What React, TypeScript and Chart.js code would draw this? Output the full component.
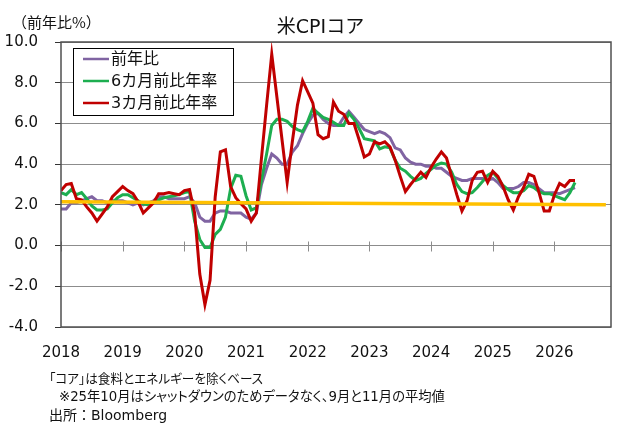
import { useEffect, useRef } from 'react';
import { Chart, registerables } from 'chart.js';

Chart.register(...registerables);

// Monthly series from January 2018 (index 0) onward, in % annualised
const startYear = 2018;

const yoy = [
  1.8, 1.8, 2.1, 2.1, 2.2, 2.3, 2.4, 2.2, 2.2, 2.1, 2.2, 2.2,
  2.2, 2.1, 2.0, 2.1, 2.0, 2.1, 2.2, 2.4, 2.4, 2.3, 2.3, 2.3,
  2.3, 2.4, 2.1, 1.4, 1.2, 1.2, 1.6, 1.7, 1.7, 1.6, 1.6, 1.6,
  1.4, 1.3, 1.6, 3.0, 3.8, 4.5, 4.3, 4.0, 4.0, 4.6, 4.9, 5.5,
  6.0, 6.4, 6.5, 6.2, 6.0, 5.9, 5.9, 6.3, 6.6, 6.3, 6.0, 5.7,
  5.6, 5.5, 5.6, 5.5, 5.3, 4.8, 4.7, 4.3, 4.1, 4.0, 4.0, 3.9,
  3.9, 3.8, 3.8, 3.6, 3.4, 3.3, 3.2, 3.2, 3.3, 3.3, 3.3, 3.2,
  3.3, 3.1, 2.8, 2.8, 2.8, 2.9, 3.1, 3.1, 3.0, 2.8, 2.6, 2.6,
  2.6, 2.55, 2.65, 2.75, 2.85,
];

const sixMonth = [
  2.6, 2.5, 2.75, 2.5, 2.6, 2.3, 1.95, 1.75, 1.75, 1.8, 2.1, 2.35,
  2.5, 2.5, 2.35, 2.2, 2.05, 2.0, 2.1, 2.25, 2.35, 2.4, 2.45, 2.5,
  2.6, 2.65, 1.2, 0.3, -0.1, -0.1, 0.55, 0.8, 1.4, 2.8, 3.45, 3.4,
  2.45, 1.75, 1.85, 3.2, 4.5, 5.9, 6.2, 6.2, 6.1, 5.85, 5.7, 5.6,
  6.1, 6.75, 6.5, 6.3, 6.2, 6.05, 5.9, 5.9, 6.5, 6.2, 5.75, 5.25,
  5.2, 5.15, 4.75, 4.85, 4.8, 4.2, 3.8, 3.65, 3.4, 3.2, 3.3, 3.55,
  3.75, 3.95, 4.05, 4.0, 3.6, 3.0, 2.65, 2.55, 2.6, 2.85, 3.15, 3.45,
  3.6, 3.3, 2.95, 2.75, 2.6, 2.6, 2.7, 2.95, 2.85, 2.65, 2.55, 2.55,
  2.45, 2.35, 2.25, 2.6, 3.1,
];

const threeMonth = [
  2.7, 3.0, 3.05, 2.3, 2.25, 1.9, 1.6, 1.2, 1.55, 1.9, 2.4, 2.65,
  2.9, 2.7, 2.55, 2.15, 1.6, 1.85, 2.1, 2.55, 2.55, 2.6, 2.55, 2.5,
  2.7, 2.75, 1.6, -1.4, -2.9, -1.7, 2.4, 4.6, 4.7, 2.9, 2.35, 2.05,
  1.8, 1.2, 1.6, 4.3, 6.9, 9.4, 7.3, 5.2, 3.1, 5.1, 6.9, 8.1,
  7.55, 7.0, 5.45, 5.25, 5.35, 7.05, 6.6, 6.45, 6.0, 6.0, 5.2, 4.35,
  4.5, 5.1, 5.0, 5.1, 4.85, 4.2, 3.4, 2.65, 3.0, 3.3, 3.6, 3.35,
  3.85, 4.25, 4.6, 4.3, 3.4, 2.5, 1.7, 2.2, 3.2, 3.6, 3.65, 3.1,
  3.65, 3.4, 2.9, 2.25, 1.75, 2.4, 2.85, 3.5, 3.4, 2.6, 1.7, 1.7,
  2.5, 3.05, 2.9, 3.2, 3.2,
];

// 2% reference line (endpoints, month index / value)
const guideMonths = [0, 106];
const guideValues = [2.15, 2.0];

const seriesLabels = ['前年比', '6カ月前比年率', '3カ月前比年率'];
const seriesColors = ['#8064A2', '#1DAE50', '#C00000'];
const guideColor = '#FFC000';

const yMin = -4;
const yMax = 10;
const yStep = 2;
const xMax = 107;

const tickFont = "'DejaVu Sans', 'Noto Sans CJK JP', sans-serif";
const jpFont = "'DejaVu Sans', 'Noto Sans CJK JP', sans-serif";

const toPoints = (values: number[]) => values.map((v, i) => ({ x: i, y: v }));

const decorations = {
  id: 'decorations',
  afterDatasetsDraw(chart: any) {
    const { ctx, chartArea: a, scales } = chart;
    const xs = scales.x;
    const ys = scales.y;
    ctx.save();

    // year tick marks crossing the zero line
    const y0 = Math.round(ys.getPixelForValue(0)) + 0.5;
    ctx.strokeStyle = '#8c8c8c';
    ctx.lineWidth = 1;
    xs.ticks.forEach((t: any) => {
      const px = Math.round(xs.getPixelForValue(t.value)) + 0.5;
      ctx.beginPath();
      ctx.moveTo(px, y0 - 5);
      ctx.lineTo(px, y0 + 5);
      ctx.stroke();
    });

    // plot frame
    ctx.strokeStyle = '#505050';
    ctx.lineWidth = 1.5;
    ctx.strokeRect(a.left, a.top, a.right - a.left, a.bottom - a.top);

    // legend box inside the plot
    const bx = a.left + 12;
    const by = a.top + 6;
    const bw = 160;
    const bh = 67;
    ctx.fillStyle = '#ffffff';
    ctx.fillRect(bx, by, bw, bh);
    ctx.strokeStyle = '#000000';
    ctx.lineWidth = 1;
    ctx.strokeRect(bx + 0.5, by + 0.5, bw, bh);

    const entries = chart.data.datasets.filter((d: any) => d.label);
    ctx.font = `16px ${jpFont}`;
    ctx.textBaseline = 'middle';
    ctx.textAlign = 'left';
    entries.forEach((d: any, i: number) => {
      const ry = by + 11 + i * 22;
      ctx.strokeStyle = d.borderColor;
      ctx.lineWidth = 2.5;
      ctx.beginPath();
      ctx.moveTo(bx + 10, ry);
      ctx.lineTo(bx + 36, ry);
      ctx.stroke();
      ctx.fillStyle = '#111111';
      ctx.fillText(d.label, bx + 38, ry + 1);
    });

    ctx.restore();
  },
};

export default function App() {
  const canvasRef = useRef<HTMLCanvasElement | null>(null);

  useEffect(() => {
    const canvas = canvasRef.current;
    if (!canvas) return;
    const seriesValues = [yoy, sixMonth, threeMonth];
    const lineDatasets = seriesValues.map((values, i) => ({
      label: seriesLabels[i],
      data: toPoints(values),
      borderColor: seriesColors[i],
      backgroundColor: seriesColors[i],
      borderWidth: 3,
      pointRadius: 0,
      tension: 0,
      order: 3 - i,
    }));
    const guide = {
      label: '',
      data: guideMonths.map((m, i) => ({ x: m, y: guideValues[i] })),
      borderColor: guideColor,
      backgroundColor: guideColor,
      borderWidth: 3.5,
      pointRadius: 0,
      tension: 0,
      order: 0,
    };

    const chart = new Chart(canvas, {
      type: 'line',
      data: { datasets: [...lineDatasets, guide] as any },
      options: {
        animation: false,
        responsive: false,
        devicePixelRatio: 1,
        layout: { padding: { left: 0, top: 42, right: 28, bottom: 68 } },
        plugins: {
          legend: { display: false },
          title: { display: false },
          tooltip: { enabled: false },
        },
        scales: {
          x: {
            type: 'linear',
            min: 0,
            max: xMax,
            grid: { display: false },
            border: { display: false },
            ticks: {
              stepSize: 12,
              includeBounds: false,
              autoSkip: false,
              maxRotation: 0,
              padding: 9,
              color: '#111111',
              font: { family: tickFont, size: 15 },
              callback: (v: any) => String(startYear + Number(v) / 12),
            },
            afterFit: (s: any) => {
              s.height = 40;
            },
          },
          y: {
            type: 'linear',
            min: yMin,
            max: yMax,
            grid: {
              color: '#8c8c8c',
              lineWidth: 1,
              tickColor: '#333333',
              tickLength: 6,
            },
            border: { display: false },
            ticks: {
              stepSize: yStep,
              padding: 17,
              color: '#111111',
              font: { family: tickFont, size: 15 },
              callback: (v: any) => Number(v).toFixed(1),
            },
            afterFit: (s: any) => {
              s.width = 61;
            },
          },
        },
      },
      plugins: [decorations],
    });

    return () => chart.destroy();
  }, []);

  const noteStyle: any = {
    position: 'absolute',
    left: 49,
    fontFamily: jpFont,
    fontSize: 13,
    lineHeight: '18px',
    color: '#111111',
    whiteSpace: 'nowrap',
    fontFeatureSettings: '"palt"',
  };

  return (
    <div style={{ position: 'absolute', left: 0, top: 0, width: 639, height: 435, background: '#ffffff', overflow: 'hidden' }}>
      <canvas ref={canvasRef} width={639} height={435} style={{ position: 'absolute', left: 0, top: 0, width: 639, height: 435 }} />
      <div style={{ position: 'absolute', left: 0, width: 639, top: 16, textAlign: 'center', fontFamily: jpFont, fontSize: 19, lineHeight: '21px', color: '#111111', paddingLeft: 1 }}>
        米CPIコア
      </div>
      <div style={{ position: 'absolute', left: 12, top: 13, fontFamily: "'Noto Sans CJK JP', sans-serif", fontSize: 15, lineHeight: '17px', color: '#111111', whiteSpace: 'nowrap' }}>
        （前年比%）
      </div>
      <div style={{ ...noteStyle, top: 370, fontSize: 12.6 }}>「コア」は食料とエネルギーを除くベース</div>
      <div style={{ ...noteStyle, top: 388, left: 59, fontSize: 13.3 }}>※25年10月はシャットダウンのためデータなく、9月と11月の平均値</div>
      <div style={{ ...noteStyle, top: 406, fontSize: 14, fontFeatureSettings: 'normal' }}>出所：Bloomberg</div>
    </div>
  );
}
